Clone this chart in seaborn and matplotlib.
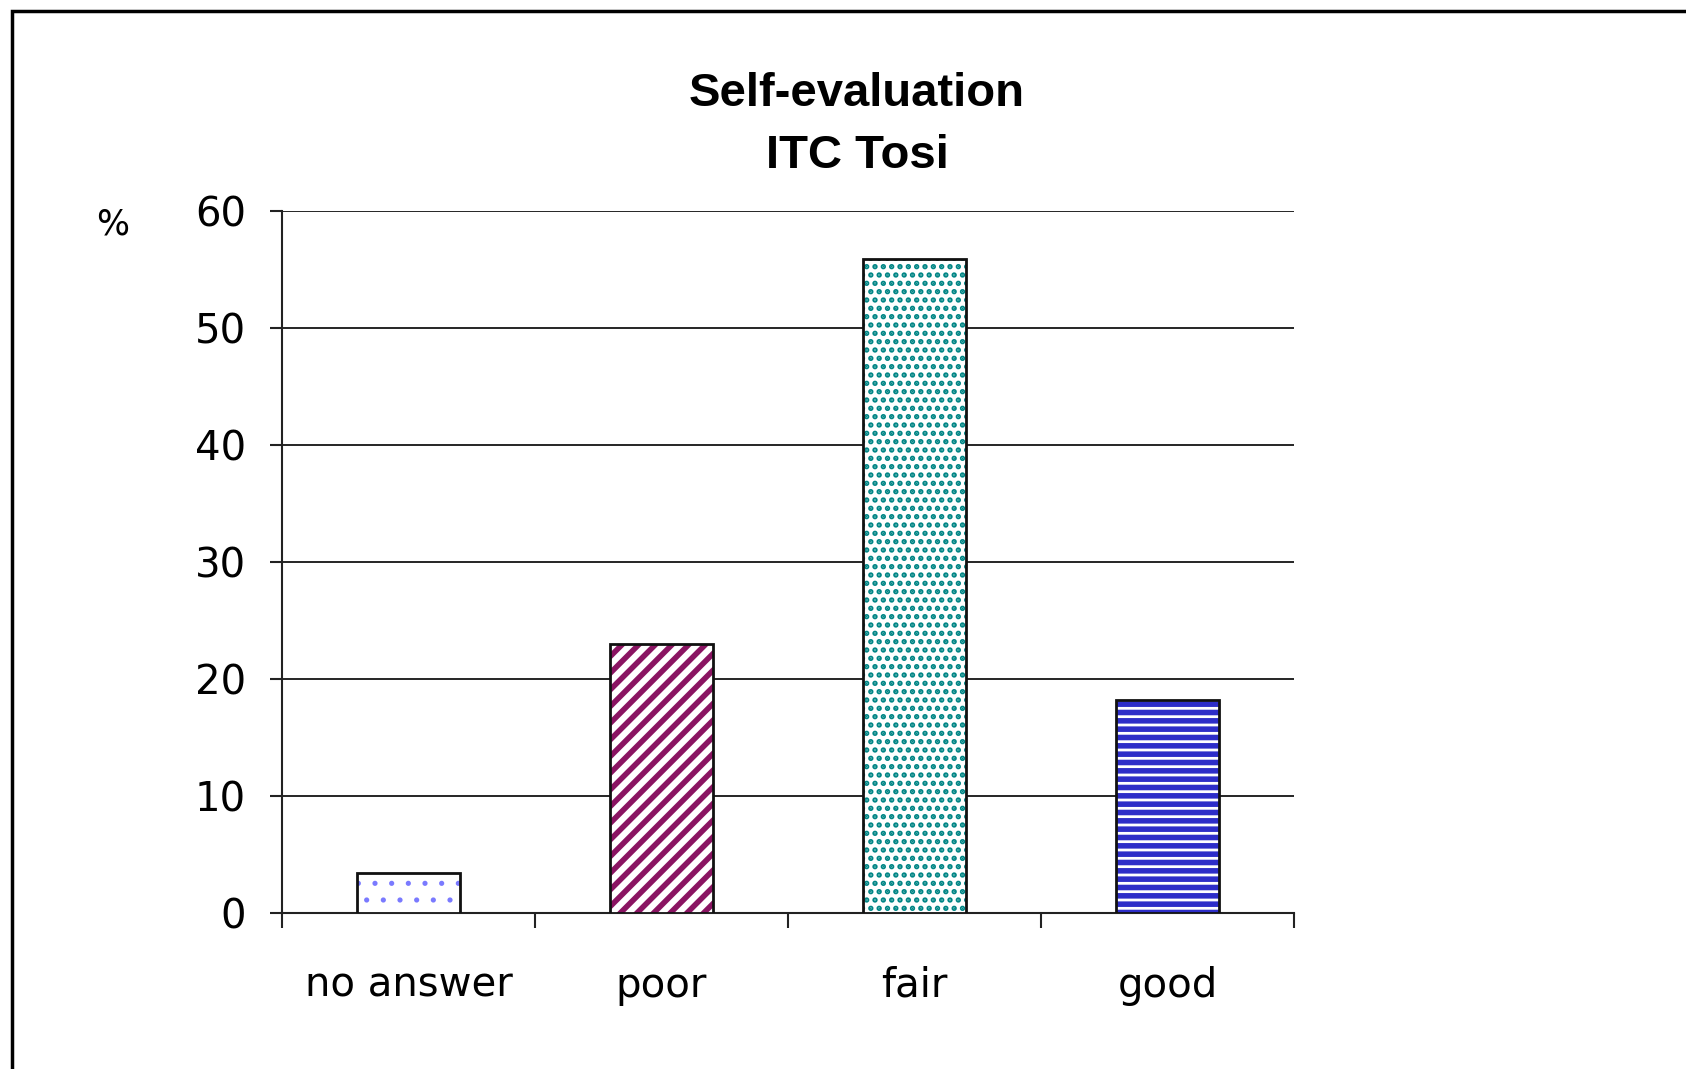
import matplotlib
matplotlib.use("Agg")
import matplotlib.pyplot as plt
import seaborn as sns
import pandas as pd
from matplotlib.lines import Line2D

categories = ["no answer", "poor", "fair", "good"]
values = [3.4, 23.0, 55.9, 18.2]
yticks = [0, 10, 20, 30, 40, 50, 60]
title_lines = ["Self-evaluation", "ITC Tosi"]
ylabel = "%"

hatch_patterns = [".", "//", "..", "--"]
hatch_colors = ["#7a7aff", "#8a1462", "#008585", "#2e2ec8"]
hatch_lws = [1.3, 4.0, 2.6, 4.0]

sns.set_theme(style="white")
plt.rcParams['font.family'] = ['DejaVu Sans']

fig = plt.figure(figsize=(16.86, 10.69), dpi=100)
ax = fig.add_axes([282/1686, 1-913/1069, (1294-282)/1686, (913-211)/1069])

df = pd.DataFrame({"cat": categories, "val": values})

# filled hatched bars
sns.barplot(data=df, x="cat", y="val", ax=ax, width=0.41, color="white",
            saturation=1, zorder=3, linewidth=0)
for p, h, c, lw in zip(ax.patches, hatch_patterns, hatch_colors, hatch_lws):
    p.set_facecolor("white")
    p.set_edgecolor(c)
    p.set_linewidth(0)
    p.set_hatch(h)
    if hasattr(p, "set_hatch_linewidth"):
        p.set_hatch_linewidth(lw)
    else:
        p._hatch_linewidth = lw
n_filled = len(ax.patches)
# outlines
sns.barplot(data=df, x="cat", y="val", ax=ax, width=0.41, fill=False,
            color="black", linewidth=2.0, zorder=4)
for p in ax.patches[n_filled:]:
    p.set_edgecolor("#111111")
    p.set_linewidth(2.0)

ax.set_xlim(-0.5, len(categories) - 0.5)
ax.set_ylim(0, 60)
ax.set_yticks(yticks)
ax.yaxis.grid(True, color="black", linewidth=1.2, zorder=0)
ax.set_axisbelow(True)
ax.set_xlabel("")
ax.set_ylabel("")

for s in ["top", "right"]:
    ax.spines[s].set_visible(False)
for s in ["left", "bottom"]:
    ax.spines[s].set_color("#222222")
    ax.spines[s].set_linewidth(1.5)

ax.set_xticks(range(len(categories)))
ax.set_xticklabels(categories)
ax.set_xticks([i - 0.5 for i in range(len(categories) + 1)], minor=True)
ax.tick_params(axis="x", which="major", length=0, pad=38, labelsize=29, labelcolor="black")
ax.tick_params(axis="x", which="minor", bottom=True, length=11, width=1.5, color="#222222", direction="out")
ax.tick_params(axis="y", which="major", left=True, length=9, width=1.5, color="#222222",
               pad=17, labelsize=29, labelcolor="black", direction="out")

fig.text(857/1686, 1-94/1069, title_lines[0], ha="center", va="center",
         fontsize=34, fontweight="bold", color="black", family="Liberation Sans")
fig.text(857/1686, 1-156/1069, title_lines[1], ha="center", va="center",
         fontsize=34, fontweight="bold", color="black", family="Liberation Sans")
fig.text(113/1686, 1-225/1069, ylabel, ha="center", va="center",
         fontsize=25, color="black")

# outer frame (left and top edges)
x0 = 12/1686
y0 = 1 - 11/1069
fig.add_artist(Line2D([x0, x0, 1.0], [0.0, y0, y0], transform=fig.transFigure,
                      color="black", linewidth=2.5, solid_joinstyle="miter"))

fig.savefig("out.png", dpi=100, facecolor="white")
